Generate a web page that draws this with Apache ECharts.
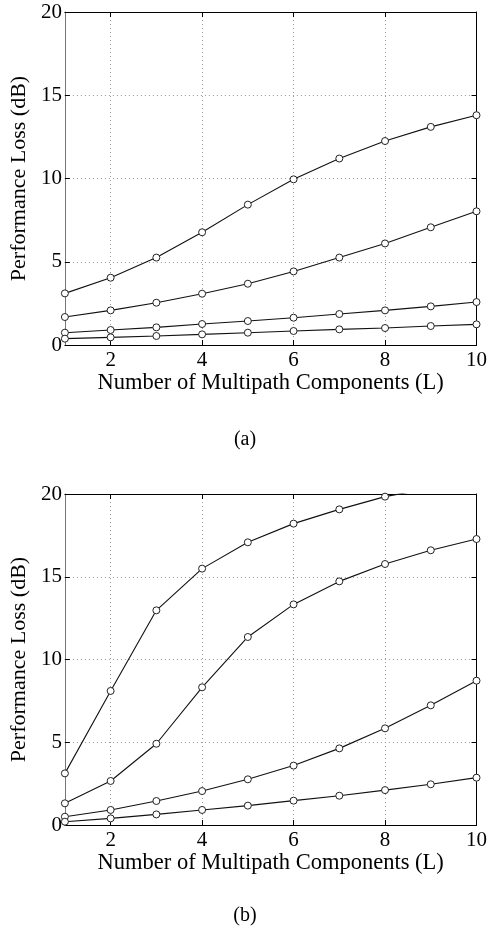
<!DOCTYPE html>
<html>
<head>
<meta charset="utf-8">
<script src="https://cdn.jsdelivr.net/npm/echarts@6/dist/echarts.min.js"></script>
<style>
  html, body { margin: 0; padding: 0; background: #fff; }
  #chart { width: 490px; height: 926px; }
</style>
</head>
<body>
<div id="chart"></div>
<script>
// number of multipath components L
var xValues = [1, 2, 3, 4, 5, 6, 7, 8, 9, 10];
var xTicks = [2, 4, 6, 8, 10];

// panel (a)
var a1 = [3.1, 4.04, 5.25, 6.77, 8.43, 9.95, 11.2, 12.25, 13.1, 13.8];
var a2 = [1.68, 2.08, 2.54, 3.08, 3.68, 4.42, 5.25, 6.1, 7.07, 8.03];
var a3 = [0.74, 0.9, 1.06, 1.26, 1.44, 1.64, 1.86, 2.08, 2.32, 2.58];
var a4 = [0.38, 0.46, 0.54, 0.64, 0.74, 0.84, 0.94, 1.02, 1.14, 1.24];

// panel (b)  (top curve runs past 20 dB and is clipped)
var b1 = [3.12, 8.1, 12.97, 15.49, 17.08, 18.21, 19.07, 19.84, 20.35, 20.8];
var b2 = [1.31, 2.66, 4.91, 8.32, 11.36, 13.33, 14.72, 15.77, 16.6, 17.28];
var b3 = [0.5, 0.91, 1.45, 2.05, 2.76, 3.59, 4.63, 5.84, 7.23, 8.72];
var b4 = [0.2, 0.4, 0.64, 0.91, 1.17, 1.47, 1.77, 2.11, 2.46, 2.86];

var fontFam = "'Liberation Serif', 'DejaVu Serif', serif";

function pairs(ys) {
  return xValues.map(function (x, i) { return [x, ys[i]]; });
}

function xAx(gi, pos) {
  var main = pos === 'bottom';
  return {
    type: 'value', gridIndex: gi, position: pos,
    min: 1, max: 10,
    name: main ? 'Number of Multipath Components (L)' : '',
    nameLocation: 'middle', nameGap: 23,
    nameTextStyle: { color: '#000', fontFamily: fontFam, fontSize: 22.5 },
    axisLine: { show: true, onZero: false, lineStyle: { color: '#000', width: 1 } },
    axisTick: { show: true, inside: true, length: 5, customValues: xTicks, lineStyle: { color: '#000' } },
    axisLabel: { show: main, customValues: xTicks, color: '#000', fontFamily: fontFam, fontSize: 21, margin: 5 },
    splitLine: { show: main, lineStyle: { color: '#999', type: [1, 3], width: 1 } }
  };
}

function yAx(gi, pos) {
  var main = pos === 'left';
  return {
    type: 'value', gridIndex: gi, position: pos,
    min: 0, max: 20, interval: 5,
    name: main ? 'Performance Loss (dB)' : '',
    nameLocation: 'middle', nameGap: 25,
    nameTextStyle: { color: '#000', fontFamily: fontFam, fontSize: 22 },
    axisLine: { show: true, lineStyle: { color: main ? '#777' : '#000', width: 1 } },
    axisTick: { show: true, inside: true, length: 5, lineStyle: { color: '#000' } },
    axisLabel: { show: main, color: '#000', fontFamily: fontFam, fontSize: 21, margin: 3 },
    splitLine: { show: main, lineStyle: { color: '#999', type: [1, 3], width: 1 } }
  };
}

function line(xi, yi, ys) {
  return {
    type: 'line', xAxisIndex: xi, yAxisIndex: yi,
    data: pairs(ys),
    clip: true,
    symbol: 'circle', symbolSize: 7,
    itemStyle: { color: '#fff', borderColor: '#222', borderWidth: 1 },
    lineStyle: { color: '#111', width: 1.1 },
    emphasis: { disabled: true },
    z: 3
  };
}

var option = {
  animation: false,
  backgroundColor: '#fff',
  title: [
    { text: '(a)', left: 'center', top: 425, textStyle: { color: '#000', fontFamily: fontFam, fontSize: 20, fontWeight: 'normal' } },
    { text: '(b)', left: 'center', top: 901, textStyle: { color: '#000', fontFamily: fontFam, fontSize: 20, fontWeight: 'normal' } }
  ],
  grid: [
    { left: 57, top: 12, width: 422, height: 333 },
    { left: 57, top: 494, width: 422, height: 331 }
  ],
  xAxis: [xAx(0, 'bottom'), xAx(0, 'top'), xAx(1, 'bottom'), xAx(1, 'top')],
  yAxis: [yAx(0, 'left'), yAx(0, 'right'), yAx(1, 'left'), yAx(1, 'right')],
  series: [
    line(0, 0, a1), line(0, 0, a2), line(0, 0, a3), line(0, 0, a4),
    line(2, 2, b1), line(2, 2, b2), line(2, 2, b3), line(2, 2, b4)
  ]
};

var chart = echarts.init(document.getElementById('chart'));
chart.setOption(option);
</script>
</body>
</html>
